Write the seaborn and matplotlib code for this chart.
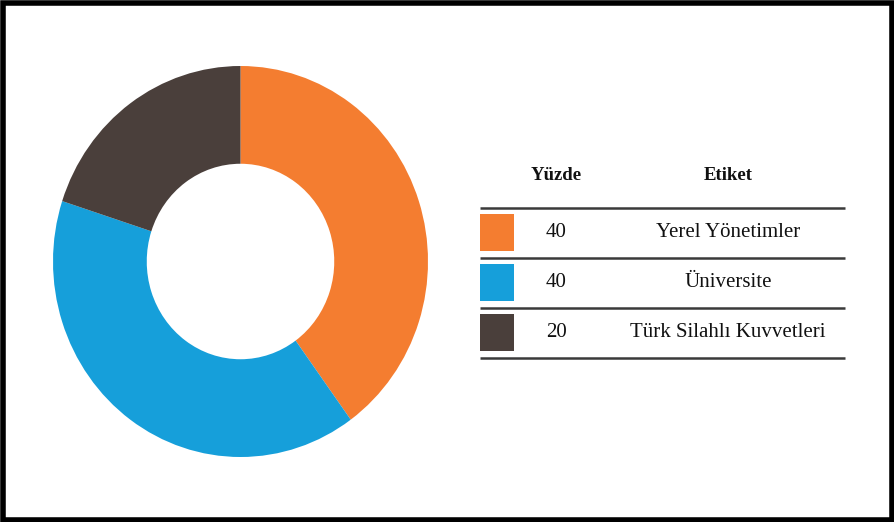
import matplotlib
matplotlib.use("Agg")
import matplotlib.pyplot as plt
import seaborn as sns
from matplotlib.patches import Rectangle

sns.set_theme(style="white")
plt.rcParams["font.family"] = ["Liberation Serif", "DejaVu Serif"]

# Data
labels = ["Yerel Yönetimler", "Üniversite", "Türk Silahlı Kuvvetleri"]
percent = [40, 40, 20]
colors = ["#F47D30", "#169FDA", "#4A3F3B"]
headers = ["Yüzde", "Etiket"]

W, H = 894, 522
fig = plt.figure(figsize=(W / 100, H / 100), dpi=100)
fig.patch.set_facecolor("white")


def px_axes(x0, y0, x1, y1):
    return fig.add_axes([x0 / W, 1 - y1 / H, (x1 - x0) / W, (y1 - y0) / H])


# Donut
ax = px_axes(53, 66, 428, 457)
ax.pie(percent, colors=colors, startangle=90, counterclock=False,
       radius=1.0, wedgeprops=dict(width=0.5, linewidth=0),
       )
ax.set_aspect("auto")
ax.set_xlim(-1, 1)
ax.set_ylim(-1, 1)
ax.axis("off")

# Legend table (x in pixels, y in row units)
tx = px_axes(470, 150, 860, 370)
tx.set_xlim(470, 860)
row_h = 50.0
y_line0 = 207.5
to_row = lambda ypx: (ypx - y_line0) / row_h + 0.5
tx.set_ylim(to_row(370), to_row(150))
tx.axis("off")

col_num, col_lab = 556, 728
hdr_y = to_row(176)
tx.text(col_num, hdr_y, headers[0], ha="center", va="center",
        fontsize=13.5, fontweight="bold", color="#111111")
tx.text(col_lab, hdr_y, headers[1], ha="center", va="center",
        fontsize=13.5, fontweight="bold", color="#111111")

for i in range(len(labels) + 1):
    tx.plot([480, 845], [i + 0.5, i + 0.5], color="#3a3a3a", lw=1.8,
            solid_capstyle="butt")

for i, (lab, val, c) in enumerate(zip(labels, percent, colors), start=1):
    tx.add_patch(Rectangle((480, i - 0.37), 34, 0.74, facecolor=c,
                           edgecolor="none"))
    tx.text(col_num, i, f"{val}", ha="center", va="center",
            fontsize=15, color="#111111")
    tx.text(col_lab, i, lab, ha="center", va="center",
            fontsize=15, color="#111111")

# Frame around the figure
fig.add_artist(Rectangle((2.5 / W, 2.5 / H), 1 - 5 / W, 1 - 5 / H,
                         transform=fig.transFigure, fill=False,
                         edgecolor="black", linewidth=4))

fig.savefig("out.png", dpi=100)
